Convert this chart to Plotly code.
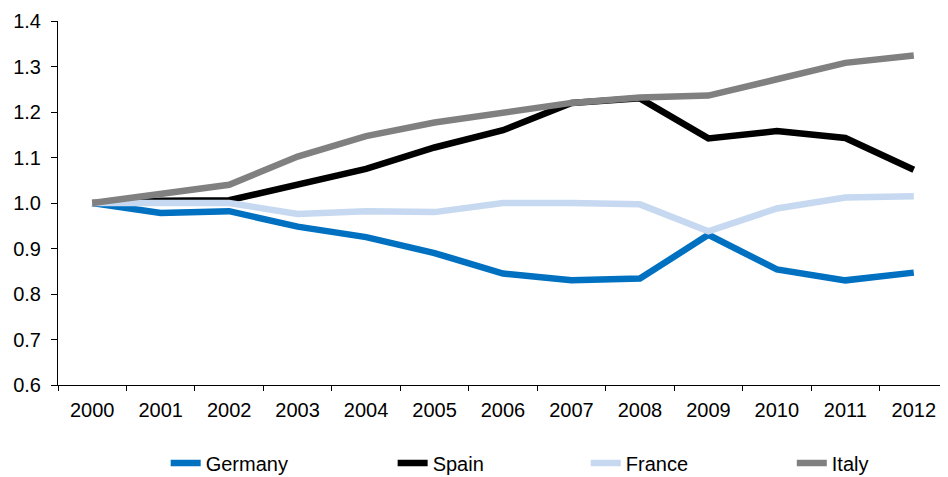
import plotly.graph_objects as go

years = ["2000", "2001", "2002", "2003", "2004", "2005", "2006",
         "2007", "2008", "2009", "2010", "2011", "2012"]
germany = [1.0, 0.978, 0.982, 0.948, 0.925, 0.890, 0.845, 0.830, 0.834, 0.930, 0.854, 0.830, 0.847]
spain = [1.0, 1.005, 1.006, 1.040, 1.075, 1.122, 1.160, 1.220, 1.230, 1.142, 1.158, 1.143, 1.073]
france = [1.0, 1.0, 1.0, 0.976, 0.982, 0.980, 1.0, 1.0, 0.997, 0.938, 0.988, 1.012, 1.015]
italy = [1.0, 1.020, 1.040, 1.102, 1.147, 1.177, 1.197, 1.220, 1.232, 1.236, 1.272, 1.308, 1.324]

series = [
    ("Germany", germany, "#0070C0", "legend", 0.121),
    ("Spain", spain, "#000000", "legend2", 0.376),
    ("France", france, "#C6D9F1", "legend3", 0.593),
    ("Italy", italy, "#808080", "legend4", 0.8245),
]

fig = go.Figure()
for name, vals, color, leg, _ in series:
    fig.add_trace(go.Scatter(
        x=years, y=vals, name=name, mode="lines",
        line=dict(color=color, width=6.5),
        legend=leg,
    ))

layout_legends = {}
for name, vals, color, leg, lx in series:
    layout_legends[leg] = dict(
        x=lx, xanchor="left", y=-0.214, yanchor="middle",
        orientation="h", font=dict(size=20, color="black"),
        bgcolor="rgba(0,0,0,0)", borderwidth=0,
    )

# The page body adds an 8px offset; size the figure to fill the window.
fig.update_layout(
    width=940, height=469,
    margin=dict(l=50, r=0, t=13, b=92, autoexpand=False),
    paper_bgcolor="white", plot_bgcolor="white",
    font=dict(family="Liberation Sans, Arial, sans-serif", size=20, color="black"),
    showlegend=True,
    xaxis=dict(
        type="category", range=[-0.5, 12.5], tickson="boundaries",
        ticks="outside", ticklen=5, tickcolor="black", tickwidth=1,
        ticklabelstandoff=7,
        showline=True, linecolor="black", linewidth=1, automargin=False,
        showgrid=False, zeroline=False, fixedrange=True,
    ),
    yaxis=dict(
        range=[0.6, 1.4], dtick=0.1, tickformat=".1f",
        ticks="outside", ticklen=6, tickcolor="black", tickwidth=1,
        ticklabelstandoff=6,
        showline=True, linecolor="black", linewidth=1, automargin=False,
        showgrid=False, zeroline=False, fixedrange=True,
    ),
    **layout_legends,
)

fig.write_html("out.html")
